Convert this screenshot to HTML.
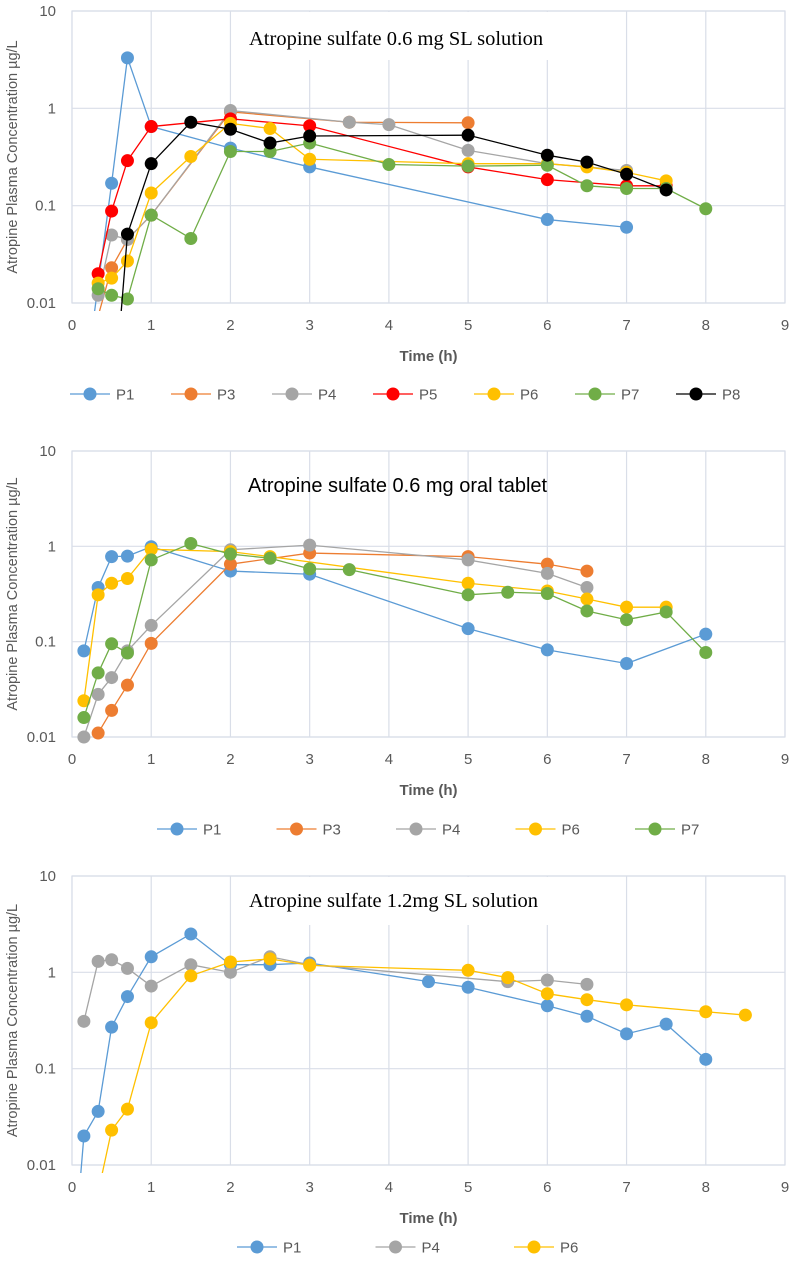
<!DOCTYPE html>
<html><head><meta charset="utf-8"><style>
body{margin:0;background:#fff}
svg{display:block}
</style></head><body>
<svg id="s" width="791" height="1265" xmlns="http://www.w3.org/2000/svg" style="font-family:'Liberation Sans',sans-serif"></svg>
<script>
// ---- chart 1 data: 0.6 mg SL solution
const c1Names=["P1","P3","P4","P5","P6","P7","P8"];
const c1P1x=[0.25,0.5,0.7,1,2,3,6,7], c1P1y=[0.005,0.17,3.3,0.65,0.39,0.25,0.072,0.06];
const c1P3x=[0.3,0.5,0.7,1,2,3.5,5], c1P3y=[0.006,0.023,0.045,0.08,0.92,0.72,0.71];
const c1P4x=[0.33,0.5,0.7,1,2,3.5,4,5,6,7], c1P4y=[0.012,0.05,0.045,0.08,0.95,0.72,0.68,0.37,0.27,0.23];
const c1P5x=[0.33,0.5,0.7,1,2,3,5,6,7,7.5], c1P5y=[0.02,0.088,0.29,0.65,0.78,0.66,0.25,0.185,0.16,0.16];
const c1P6x=[0.33,0.5,0.7,1,1.5,2,2.5,3,5,6,6.5,7,7.5], c1P6y=[0.016,0.018,0.027,0.135,0.32,0.7,0.62,0.3,0.27,0.27,0.25,0.22,0.18];
const c1P7x=[0.33,0.5,0.7,1,1.5,2,2.5,3,4,5,6,6.5,7,7.5,8], c1P7y=[0.014,0.012,0.011,0.08,0.046,0.36,0.36,0.44,0.265,0.255,0.26,0.16,0.15,0.15,0.093];
const c1P8x=[0.6,0.7,1,1.5,2,2.5,3,5,6,6.5,7,7.5], c1P8y=[0.005,0.051,0.27,0.72,0.61,0.44,0.52,0.53,0.33,0.28,0.21,0.145];
// ---- chart 2 data: 0.6 mg oral tablet
const c2Names=["P1","P3","P4","P6","P7"];
const c2P1x=[0.15,0.33,0.5,0.7,1,2,3,5,6,7,8], c2P1y=[0.08,0.37,0.78,0.79,0.99,0.55,0.51,0.137,0.082,0.059,0.12];
const c2P3x=[0.33,0.5,0.7,1,2,3,5,6,6.5], c2P3y=[0.011,0.019,0.035,0.096,0.65,0.85,0.78,0.65,0.55];
const c2P4x=[0.15,0.33,0.5,0.7,1,2,3,5,6,6.5], c2P4y=[0.01,0.028,0.042,0.08,0.148,0.92,1.03,0.72,0.52,0.37];
const c2P6x=[0.15,0.33,0.5,0.7,1,2,2.5,5,6,6.5,7,7.5], c2P6y=[0.024,0.31,0.41,0.46,0.93,0.88,0.78,0.41,0.34,0.28,0.23,0.23];
const c2P7x=[0.15,0.33,0.5,0.7,1,1.5,2,2.5,3,3.5,5,5.5,6,6.5,7,7.5,8], c2P7y=[0.016,0.047,0.095,0.076,0.72,1.07,0.83,0.75,0.58,0.57,0.31,0.33,0.32,0.21,0.17,0.205,0.077];
// ---- chart 3 data: 1.2 mg SL solution
const c3Names=["P1","P4","P6"];
const c3P1x=[0.08,0.15,0.33,0.5,0.7,1,1.5,2,2.5,3,4.5,5,6,6.5,7,7.5,8], c3P1y=[0.004,0.02,0.036,0.27,0.56,1.45,2.5,1.2,1.2,1.25,0.8,0.7,0.45,0.35,0.23,0.29,0.125];
const c3P4x=[0.15,0.33,0.5,0.7,1,1.5,2,2.5,3,5.5,6,6.5], c3P4y=[0.31,1.3,1.35,1.1,0.72,1.2,1.0,1.45,1.2,0.8,0.83,0.75];
const c3P6x=[0.3,0.5,0.7,1,1.5,2,2.5,3,5,5.5,6,6.5,7,8,8.5], c3P6y=[0.004,0.023,0.038,0.3,0.92,1.28,1.38,1.18,1.05,0.88,0.6,0.52,0.46,0.39,0.36];
const xTicks=[0,1,2,3,4,5,6,7,8,9];
const yTicks=[0.01,0.1,1,10];
const yTickLabels=["0.01","0.1","1","10"];

const COL={P1:"#5B9BD5",P3:"#ED7D31",P4:"#A5A5A5",P5:"#FF0000",P6:"#FFC000",P7:"#70AD47",P8:"#000000"};
const NS="http://www.w3.org/2000/svg";
const svg=document.getElementById('s');
function mk(tag,attrs,parent){const e=document.createElementNS(NS,tag);for(const k in attrs)e.setAttribute(k,attrs[k]);(parent||svg).appendChild(e);return e;}

function drawChart(id,box,names,xs,ys,title,legendX){
  const g=mk('g',{});
  
  
  const X=v=>box.l+(v-0)/9*(box.r-box.l);
  const Y=v=>box.b-(Math.log10(v)+2)/3*(box.b-box.t);
  xTicks.forEach((t,i)=>{
    const ln=mk('line',{x1:X(t),x2:X(t),y1:box.t,y2:box.b,stroke:"#D9DEE8","stroke-width":1.2},g);
    
    
    const tx=mk('text',{x:X(t),y:box.b+27,"text-anchor":"middle","font-size":15,fill:"#595959"},g);
    tx.textContent=t;
    
    
  });
  yTicks.forEach((t,i)=>{
    const ln=mk('line',{x1:box.l,x2:box.r,y1:Y(t),y2:Y(t),stroke:"#D9DEE8","stroke-width":1.2},g);
    
    
    const tx=mk('text',{x:box.l-16,y:Y(t)+5,"text-anchor":"end","font-size":15,fill:"#595959"},g);
    tx.textContent=yTickLabels[i];
    
    
  });
  mk('rect',{x:box.l,y:box.t,width:box.r-box.l,height:box.b-box.t,fill:"none",stroke:"#D9DEE8","stroke-width":1.2},g);
  if(title.serif){
    const r=mk('rect',{x:235,y:box.t+1,width:320,height:48,fill:"#fff"},g);
    
    
  }
  const tt=mk('text',{x:title.x,y:title.y,"font-size":title.serif?20.5:20,fill:"#000",style:title.serif?"font-family:'Liberation Serif',serif":"font-family:'Liberation Sans',sans-serif"},g);
  tt.textContent=title.text;
  
  
  const xt=mk('text',{x:(box.l+box.r)/2,y:box.b+58,"text-anchor":"middle","font-size":15,"font-weight":"bold",fill:"#595959"},g);
  xt.textContent="Time (h)";
  
  
  const cy=(box.t+box.b)/2;
  const yt=mk('text',{x:17,y:cy,"text-anchor":"middle","font-size":14.5,fill:"#595959",transform:`rotate(-90 17 ${cy})`},g);
  yt.textContent="Atropine Plasma Concentration µg/L";
  
  
  const clip=mk('clipPath',{id:id+'clip'},g);
  mk('rect',{x:box.l,y:box.t-8,width:box.r-box.l,height:box.b-box.t+16},clip);
  const plot=mk('g',{"clip-path":`url(#${id}clip)`},g);
  names.forEach((n,si)=>{
    const sg=mk('g',{},plot);
    
    
    const pts=xs[si].map((x,i)=>X(x)+","+Y(ys[si][i])).join(" ");
    mk('polyline',{points:pts,fill:"none",stroke:COL[n],"stroke-width":1.3},sg);
    xs[si].forEach((x,i)=>{
      const yy=Y(ys[si][i]);
      if(yy>box.b+2)return;
      const c=mk('circle',{cx:X(x),cy:yy,r:6.5,fill:COL[n]},sg);
      
      
    });
  });
  const ly=legendX.y;
  names.forEach((n,i)=>{
    const cx=legendX.start+i*legendX.step;
    const lg=mk('g',{},g);
    
    
    mk('line',{x1:cx-20,x2:cx+20,y1:ly,y2:ly,stroke:COL[n],"stroke-width":1.3},lg);
    mk('circle',{cx:cx,cy:ly,r:6.5,fill:COL[n]},lg);
    const t=mk('text',{x:cx+26,y:ly+5.5,"font-size":15,fill:"#595959"},lg);
    t.textContent=n;
  });
}
drawChart('c1',{l:72,r:785,t:11,b:303},c1Names,
  [c1P1x,c1P3x,c1P4x,c1P5x,c1P6x,c1P7x,c1P8x],[c1P1y,c1P3y,c1P4y,c1P5y,c1P6y,c1P7y,c1P8y],
  {text:"Atropine sulfate 0.6 mg SL solution",x:249,y:45,serif:true},{start:90,step:101,y:394});
drawChart('c2',{l:72,r:785,t:451,b:737},c2Names,
  [c2P1x,c2P3x,c2P4x,c2P6x,c2P7x],[c2P1y,c2P3y,c2P4y,c2P6y,c2P7y],
  {text:"Atropine sulfate 0.6 mg oral tablet",x:248,y:492,serif:false},{start:177,step:119.5,y:829});
drawChart('c3',{l:72,r:785,t:876,b:1165},c3Names,
  [c3P1x,c3P4x,c3P6x],[c3P1y,c3P4y,c3P6y],
  {text:"Atropine sulfate 1.2mg SL solution",x:249,y:907,serif:true},{start:257,step:138.5,y:1247});
</script>
</body></html>
